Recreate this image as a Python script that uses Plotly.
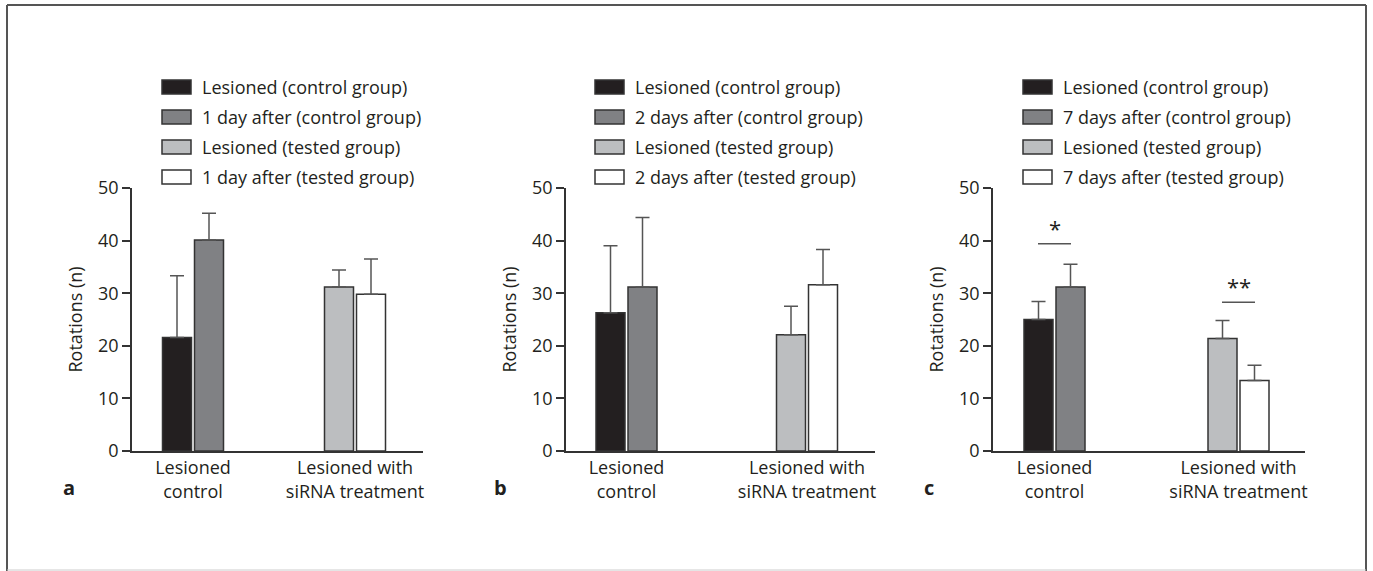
import plotly.graph_objects as go

W, H = 1373, 571

categories = ["Lesioned<br>control", "Lesioned with<br>siRNA treatment"]
series_group = [0, 0, 1, 1]  # which category each series belongs to
series_colors = ["#231f20", "#808184", "#bcbec0", "#ffffff"]

names_a = ["Lesioned (control group)", "1 day after (control group)",
           "Lesioned (tested group)", "1 day after (tested group)"]
names_b = ["Lesioned (control group)", "2 days after (control group)",
           "Lesioned (tested group)", "2 days after (tested group)"]
names_c = ["Lesioned (control group)", "7 days after (control group)",
           "Lesioned (tested group)", "7 days after (tested group)"]

means_a = [21.6, 40.1, 31.2, 29.8]
err_a = [11.7, 5.1, 3.2, 6.7]
means_b = [26.3, 31.2, 22.1, 31.6]
err_b = [12.7, 13.2, 5.4, 6.7]
means_c = [25.0, 31.2, 21.4, 13.4]
err_c = [3.4, 4.3, 3.4, 2.9]

sig_labels_c = ["*", "**"]
sig_line_y_c = [39.4, 28.3]
sig_text_y_c = [42.4, 31.4]

y_ticks = [0, 10, 20, 30, 40, 50]
panel_letters = ["a", "b", "c"]
y_title = "Rotations (n)"

# layout geometry (pixels)
y_top_px, y_bot_px = 188, 451
panels = [
    dict(left=132, right=423, c0=193, c1=355, letter_x=69, leg_x=162),
    dict(left=566, right=875, c0=626.5, c1=807, letter_x=500, leg_x=595),
    dict(left=993, right=1305, c0=1054.5, c1=1238.5, letter_x=929, leg_x=1023),
]
bar_px, gap_px = 29, 3

FONT = "Open Sans"
TXT = "#231f20"
FS = 18


def px(x):
    return x / W


def py(y):
    return 1 - y / H


fig = go.Figure()
shapes = []
annotations = []

all_names = [names_a, names_b, names_c]
all_means = [means_a, means_b, means_c]
all_errs = [err_a, err_b, err_c]

for i, p in enumerate(panels):
    ax = "" if i == 0 else str(i + 1)
    upp = 1.0 / (p["c1"] - p["c0"])  # data units per pixel
    bw = bar_px * upp
    offsets = [-(bar_px + gap_px / 2) * upp, (gap_px / 2) * upp,
               -(bar_px + gap_px / 2) * upp, (gap_px / 2) * upp]
    for k in range(4):
        fig.add_trace(go.Bar(
            x=[series_group[k]], y=[all_means[i][k]],
            width=bw, offset=offsets[k],
            marker=dict(color=series_colors[k], line=dict(color="#333333", width=1.5)),
            error_y=dict(type="data", array=[all_errs[i][k]], arrayminus=[0],
                         symmetric=False, color="#555555", thickness=1.5, width=7),
            name=all_names[i][k], showlegend=False,
            xaxis="x" + ax, yaxis="y" + ax,
        ))
    xr = [-(p["c0"] - p["left"]) * upp, (p["right"] - p["c0"]) * upp]
    fig.update_layout(**{
        "xaxis" + ax: dict(
            domain=[px(p["left"]), px(p["right"])], range=xr,
            anchor="y" + ax, tickvals=[0, 1], ticktext=categories,
            showline=True, linecolor="#333333", linewidth=1.5,
            ticks="", showgrid=False, zeroline=False, automargin=False,
            tickfont=dict(family=FONT, size=FS, color=TXT),
            fixedrange=True,
        ),
        "yaxis" + ax: dict(
            domain=[py(y_bot_px), py(y_top_px)], range=[0, 50],
            anchor="x" + ax, tickvals=y_ticks,
            showline=True, linecolor="#333333", linewidth=1.5,
            ticks="outside", ticklen=8, tickwidth=1.5, tickcolor="#333333",
            showgrid=False, zeroline=False, automargin=False,
            tickfont=dict(family=FONT, size=FS, color=TXT),
            fixedrange=True,
        ),
    })
    # y title
    annotations.append(dict(
        x=px(p["left"] - 58), y=py((y_top_px + y_bot_px) / 2), xref="paper", yref="paper",
        text=y_title, textangle=-90, showarrow=False, xanchor="center", yanchor="middle",
        font=dict(family=FONT, size=FS, color=TXT)))
    # panel letter
    annotations.append(dict(
        x=px(p["letter_x"]), y=py(487), xref="paper", yref="paper",
        text="<b>" + panel_letters[i] + "</b>", showarrow=False,
        xanchor="center", yanchor="middle",
        font=dict(family=FONT, size=20, color=TXT)))
    # legend
    for k in range(4):
        cy = 87 + 30 * k
        shapes.append(dict(
            type="rect", xref="paper", yref="paper",
            x0=px(p["leg_x"]), x1=px(p["leg_x"] + 29),
            y0=py(cy + 7), y1=py(cy - 7),
            fillcolor=series_colors[k], line=dict(color="#333333", width=1.5)))
        annotations.append(dict(
            x=px(p["leg_x"] + 38), y=py(cy), xref="paper", yref="paper",
            text=all_names[i][k], showarrow=False, xanchor="left", yanchor="middle",
            font=dict(family=FONT, size=FS, color=TXT)))

# significance marks on panel c
pc = panels[2]
upp_c = 1.0 / (pc["c1"] - pc["c0"])
for g in range(2):
    half = 16.5 * upp_c
    shapes.append(dict(type="line", xref="x3", yref="y3",
                       x0=g - half, x1=g + half,
                       y0=sig_line_y_c[g], y1=sig_line_y_c[g],
                       line=dict(color="#555555", width=1.5)))
    annotations.append(dict(x=g, y=sig_text_y_c[g], xref="x3", yref="y3",
                            text=sig_labels_c[g], showarrow=False,
                            xanchor="center", yanchor="middle",
                            font=dict(family=FONT, size=22, color=TXT)))

# outer frame: dark top/left/right, faint bottom
frame_dark = dict(color="#555555", width=2)
shapes.append(dict(type="line", xref="paper", yref="paper",
                   x0=px(7), x1=px(1366), y0=py(5), y1=py(5), line=frame_dark))
shapes.append(dict(type="line", xref="paper", yref="paper",
                   x0=px(7), x1=px(7), y0=py(5), y1=py(571), line=frame_dark))
shapes.append(dict(type="line", xref="paper", yref="paper",
                   x0=px(1366), x1=px(1366), y0=py(5), y1=py(571), line=frame_dark))
shapes.append(dict(type="line", xref="paper", yref="paper",
                   x0=px(7), x1=px(1366), y0=py(570), y1=py(570),
                   line=dict(color="#cccccc", width=1)))

fig.update_layout(
    width=W, height=H,
    margin=dict(l=0, r=0, t=0, b=0, pad=0, autoexpand=False),
    paper_bgcolor="white", plot_bgcolor="white",
    shapes=shapes, annotations=annotations, showlegend=False,
    barmode="overlay",
)

fig.write_html("out.html", config={"displayModeBar": False},
               post_script="document.body.style.margin='0';")
